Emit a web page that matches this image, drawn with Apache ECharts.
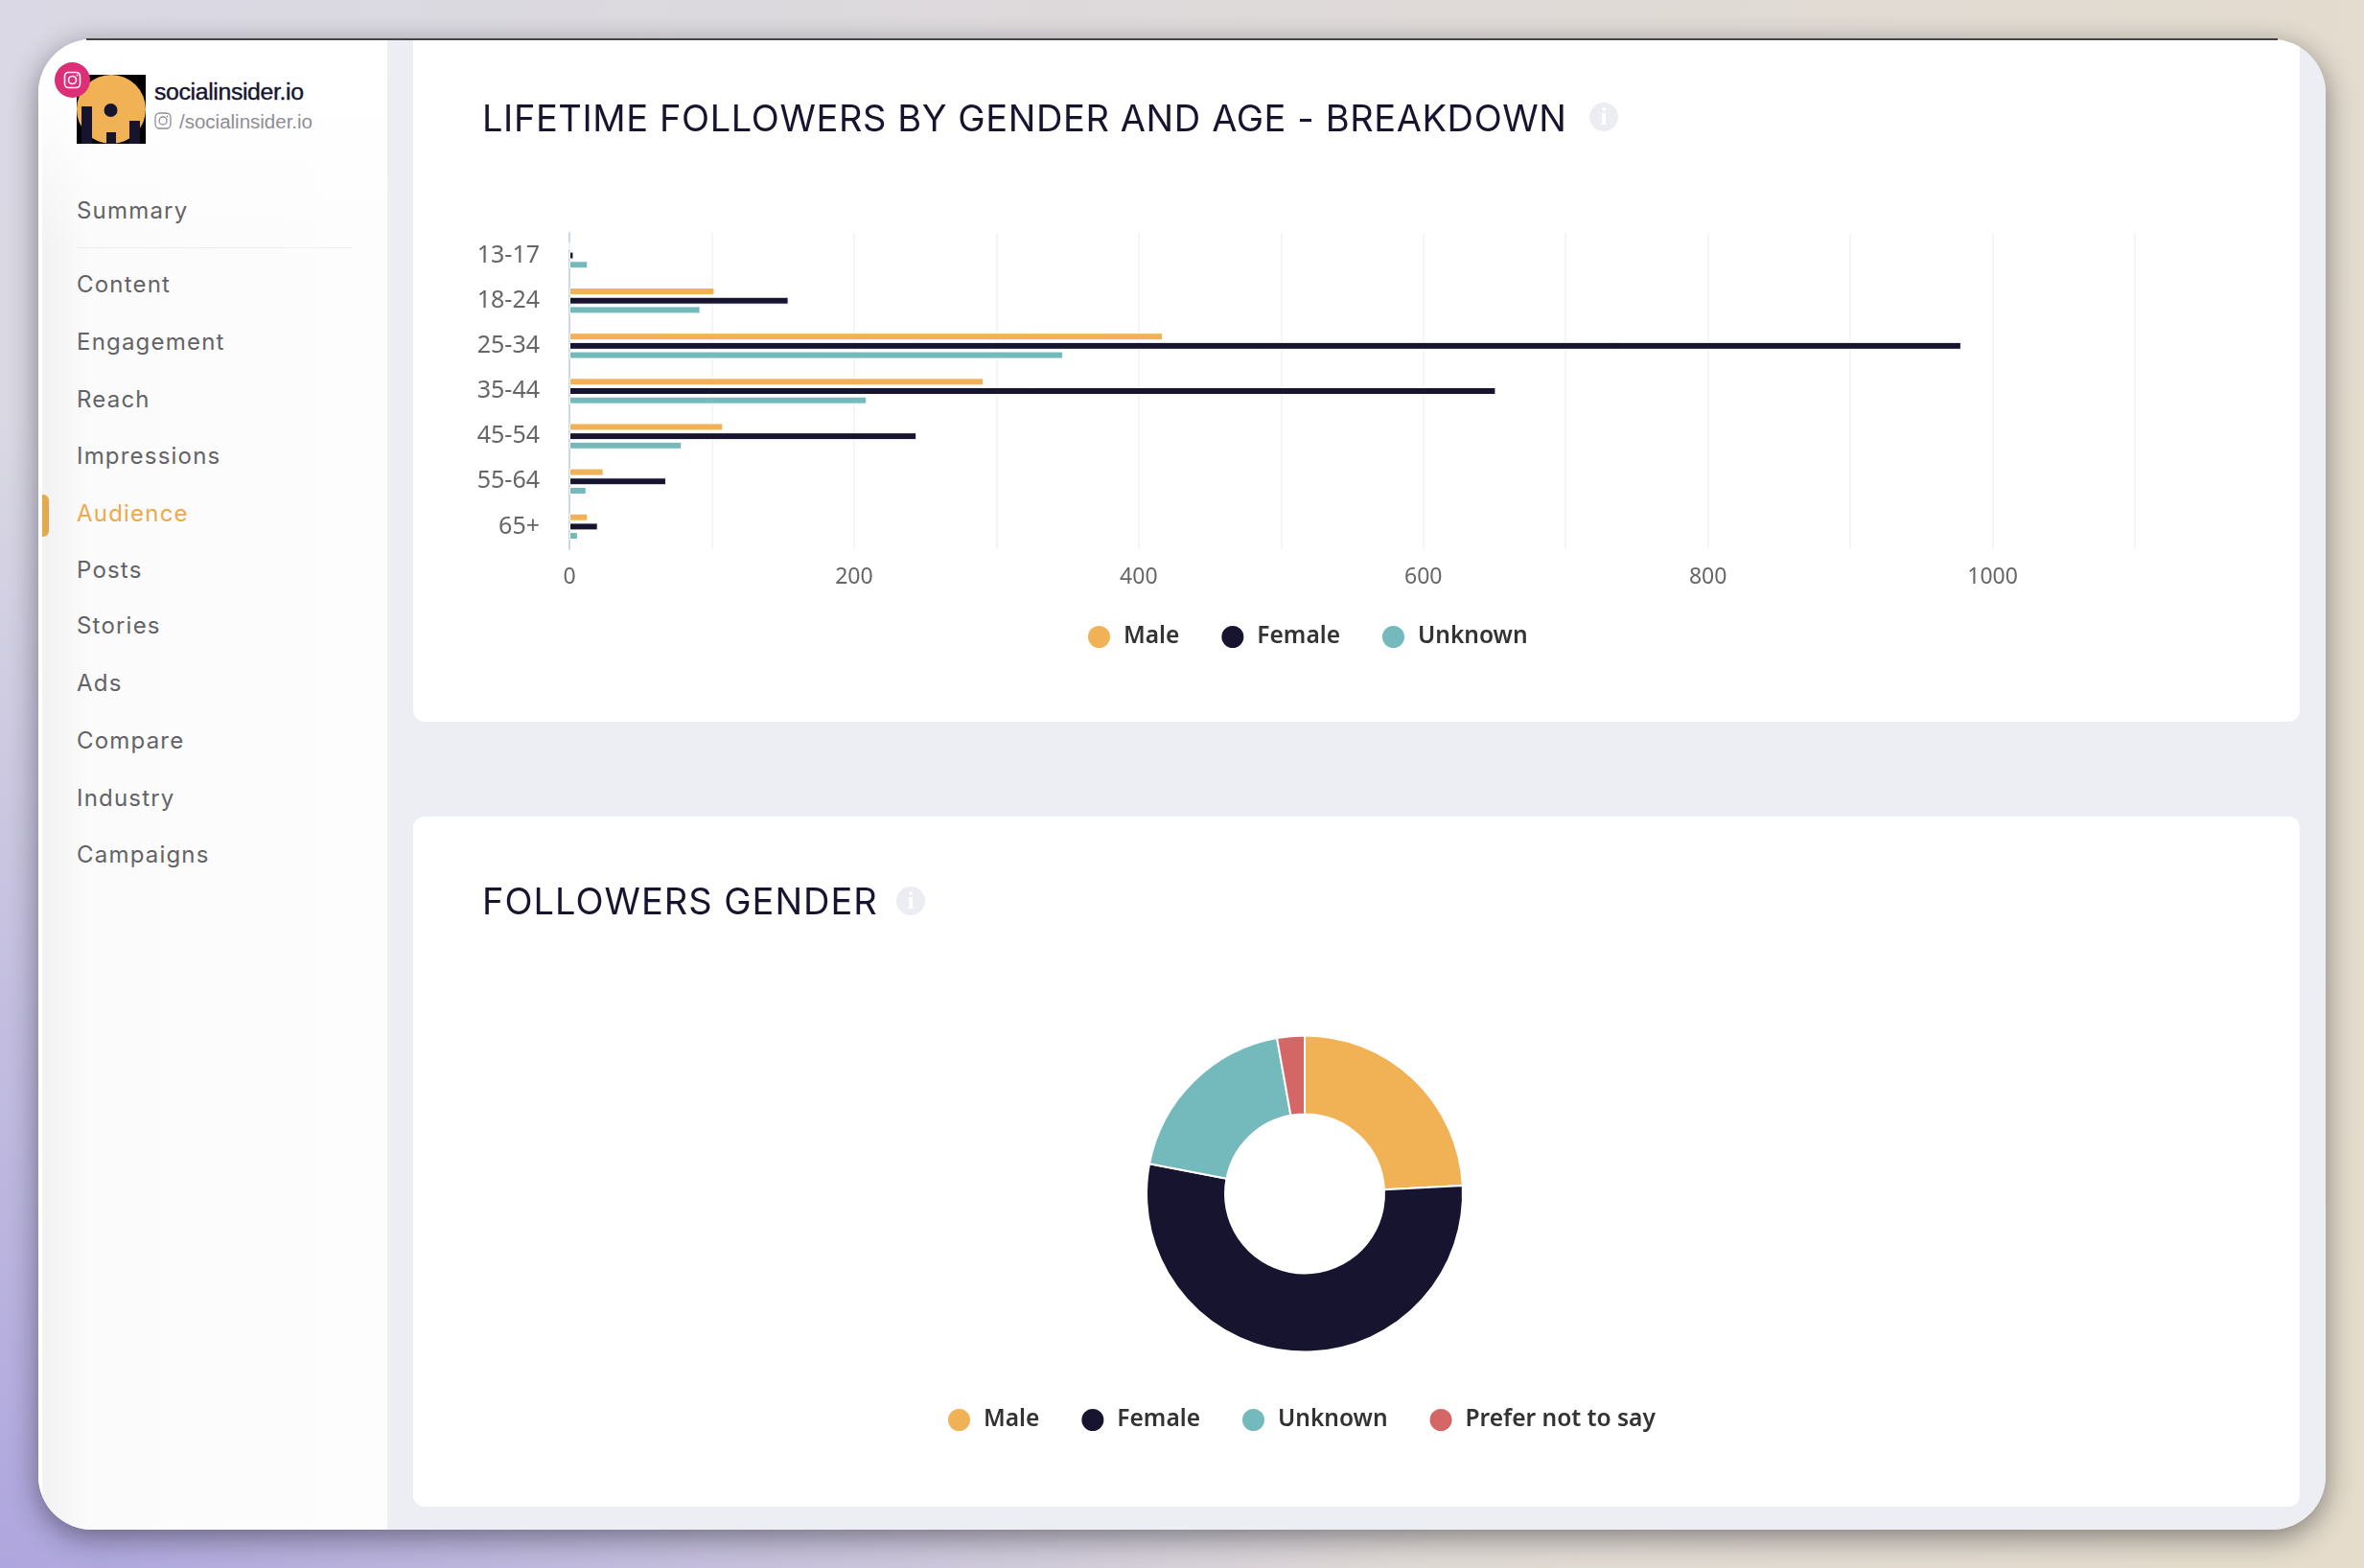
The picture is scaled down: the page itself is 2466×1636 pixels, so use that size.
<!DOCTYPE html>
<html>
<head>
<meta charset="utf-8">
<title>Followers by gender and age</title>
<script src="https://cdn.jsdelivr.net/npm/echarts@6/dist/echarts.min.js"></script>
<style>
  html, body { margin: 0; height: 100%; }
  body {
    position: relative; width: 2466px; height: 1636px; overflow: hidden;
    font-family: Inter, sans-serif;
    background:
      radial-gradient(1500px 1200px at 0% 100%, #aea6de 0%, rgba(174,166,222,0) 100%),
      linear-gradient(100deg, #d9d8e4 0%, #dfdad8 55%, #e5dccb 100%);
  }
  .window {
    position: absolute; left: 40px; top: 41px; width: 2386px; height: 1555px;
    background: #eceef3; border-radius: 56px; overflow: hidden;
  }
  .shadow {
    position: absolute; left: 40px; top: 41px; width: 2386px; height: 1555px;
    border-radius: 56px; box-shadow: 0 8px 30px rgba(20,20,30,.48);
  }
  .topline { position: absolute; left: 90px; width: 2286px; top: 40px; height: 2px; background: #444; z-index: 5; }
  .side {
    position: absolute; left: 0; top: 0; width: 364px; height: 100%;
    border-left: 4px solid #fff; box-sizing: border-box;
    background:
      linear-gradient(180deg, #fff 40px, rgba(255,255,255,0) 220px),
      linear-gradient(90deg, #f2f2f2 0, #fbfbfb 50px, #fdfdfd 100%);
  }
  .avatar { position: absolute; left: 36px; top: 37px; width: 72px; height: 72px; }
  .badge { position: absolute; left: 13px; top: 24px; width: 37px; height: 37px; }
  .name { position: absolute; left: 117px; top: 41px; font: 500 24.8px "Liberation Sans", sans-serif; color: #16142e; letter-spacing: -.35px; -webkit-text-stroke: .4px #16142e; }
  .handle { position: absolute; left: 143px; top: 74px; font: 20.5px "Liberation Sans", sans-serif; color: #8e8e93; }
  .hicon { position: absolute; left: 117px; top: 76px; width: 18px; height: 18px; }
  .nav { position: absolute; left: 36px; font-size: 24px; color: #636367; letter-spacing: 1.2px; line-height: 30px; transform: translateY(-50%); }
  .nav.on { color: #eda94a; }
  .mark { position: absolute; left: 0; top: 475px; width: 7px; height: 44px; background: #e3a94f; border-radius: 0 6px 6px 0; }
  .rule { position: absolute; left: 36px; top: 217px; width: 288px; height: 1px; background: #eee; }
  .card { position: absolute; left: 391px; width: 1968px; background: #fff; }
  #card1 { top: 0; height: 712px; border-radius: 0 0 12px 12px; }
  #card2 { top: 811px; height: 720px; border-radius: 12px; }
  .card h2 {
    position: absolute; left: 72px; margin: 0; font-weight: 400; font-size: 38px; line-height: 44px;
    color: #16142e; white-space: nowrap;
  }
  .info {
    position: absolute; width: 30px; height: 30px; border-radius: 50%; background: #ebedf2;
    color: #fff; font: 700 26px/30px "Liberation Serif", serif; text-align: center;
  }
  .chart { position: absolute; left: 0; top: 0; width: 100%; height: 100%; }
</style>
</head>
<body>
<div class="shadow"></div>
<div class="topline"></div>
<div class="window">
  <div class="side">
    <svg class="avatar" viewBox="0 0 72 72">
      <rect width="72" height="72" fill="#000"/>
      <circle cx="36" cy="36" r="36" fill="#f1b255"/>
      <rect x="5" y="33" width="11" height="39" fill="#16142e"/>
      <rect x="31" y="60" width="10" height="12" fill="#16142e"/>
      <rect x="55" y="48" width="11" height="24" fill="#16142e"/>
      <circle cx="35.500" cy="37" r="7" fill="#16142e"/>
    </svg>
    <svg class="badge" viewBox="0 0 37 37">
      <circle cx="18.500" cy="18.500" r="18.500" fill="#dc2f78"/>
      <rect x="10.500" y="10.500" width="16" height="16" rx="4" fill="none" stroke="#fff" stroke-width="1.600"/>
      <circle cx="18.500" cy="18.500" r="4" fill="none" stroke="#fff" stroke-width="1.600"/>
      <circle cx="23.500" cy="13.500" r="1" fill="#fff"/>
    </svg>
    <div class="name">socialinsider.io</div>
    <svg class="hicon" viewBox="0 0 18 18">
      <rect x="1" y="1" width="16" height="16" rx="4.500" fill="none" stroke="#8e8e93" stroke-width="1.300"/>
      <circle cx="9" cy="9" r="4" fill="none" stroke="#8e8e93" stroke-width="1.300"/>
      <circle cx="13.500" cy="4.500" r=".9" fill="#8e8e93"/>
    </svg>
    <div class="handle">/socialinsider.io</div>
    <div class="rule"></div>
    <div class="mark"></div>
    <div id="nav"></div>
  </div>
  <div class="card" id="card1">
    <div class="chart" id="barChart"></div>
    <h2 style="top:60px;letter-spacing:.6px">LIFETIME FOLLOWERS BY GENDER AND AGE - BREAKDOWN</h2>
    <div class="info" style="left:1227px;top:66px">i</div>
  </div>
  <div class="card" id="card2">
    <div class="chart" id="pieChart"></div>
    <h2 style="top:66px;letter-spacing:1px">FOLLOWERS GENDER</h2>
    <div class="info" style="left:504px;top:73px">i</div>
  </div>
</div>
<script>
const navItems = ['Summary','Content','Engagement','Reach','Impressions','Audience','Posts','Stories','Ads','Compare','Industry','Campaigns'];
const navY = [179,256,316,376,435,495,554,612,672,732,792,851];

const ageGroups = ['13-17','18-24','25-34','35-44','45-54','55-64','65+'];
const maleValues = [0,102,417,291,108,24,13];
const femaleValues = [3,154,978,651,244,68,20];
const unknownValues = [13,92,347,209,79,12,6];

const genderNames = ['Male','Female','Unknown','Prefer not to say'];
const genderValues = [948,2111,751,110];
const genderColors = ['#f1b255','#16142e','#74babd','#d46666'];

const LABEL_FONT = '"Noto Sans", sans-serif';

(function(){
  const nav = document.getElementById('nav');
  navItems.forEach(function(name, i){
    const el = document.createElement('div');
    el.className = 'nav' + (name === 'Audience' ? ' on' : '');
    el.style.top = navY[i] + 'px';
    el.textContent = name;
    nav.appendChild(el);
  });

  function legendStyle(){
    return {
      orient: 'horizontal',
      icon: 'circle',
      itemWidth: 25,
      itemHeight: 25,
      itemGap: 42,
      textStyle: { fontFamily: LABEL_FONT, fontSize: 24.5, fontWeight: 600, color: '#333', padding: [3,0,0,8] }
    };
  }

  function barSeries(name, values, color){
    return {
      name: name,
      type: 'bar',
      data: values,
      barWidth: 8,
      barGap: '21%',
      itemStyle: { color: color, borderColor: '#fff', borderWidth: 1 },
      silent: true
    };
  }

  const bar = echarts.init(document.getElementById('barChart'), null, { renderer: 'canvas' });
  bar.setOption({
    animation: false,
    color: genderColors,
    legend: Object.assign(legendStyle(), { left: 697, top: 605 }),
    grid: { left: 163, top: 202, width: 1633, height: 330, containLabel: false },
    xAxis: {
      type: 'value', min: 0, max: 1100, interval: 100,
      axisLine: { show: false }, axisTick: { show: false },
      splitLine: { lineStyle: { color: '#f4f5f6', width: 2 } },
      axisLabel: {
        margin: 18, fontFamily: LABEL_FONT, fontSize: 23, color: '#666',
        formatter: function(v){ return (v % 200 === 0 && v <= 1000) ? String(v) : ''; }
      }
    },
    yAxis: {
      type: 'category', inverse: true, data: ageGroups,
      axisLine: { lineStyle: { color: '#ccd6eb', width: 2 } },
      axisTick: { show: false },
      axisLabel: { margin: 31, fontFamily: LABEL_FONT, fontSize: 25, color: '#666', padding: [6,0,0,0] }
    },
    series: [
      barSeries('Male', maleValues, genderColors[0]),
      barSeries('Female', femaleValues, genderColors[1]),
      barSeries('Unknown', unknownValues, genderColors[2])
    ]
  });

  const pie = echarts.init(document.getElementById('pieChart'), null, { renderer: 'canvas' });
  pie.setOption({
    animation: false,
    color: genderColors,
    legend: Object.assign(legendStyle(), { left: 551, top: 611 }),
    series: [{
      type: 'pie',
      center: [930, 393.5],
      radius: [83, 165],
      startAngle: 90,
      silent: true,
      label: { show: false },
      labelLine: { show: false },
      itemStyle: { borderColor: '#fff', borderWidth: 2 },
      data: genderNames.map(function(name, i){ return { name: name, value: genderValues[i] }; })
    }]
  });

  window.addEventListener('resize', function(){ bar.resize(); pie.resize(); });
})();
</script>
</body>
</html>
